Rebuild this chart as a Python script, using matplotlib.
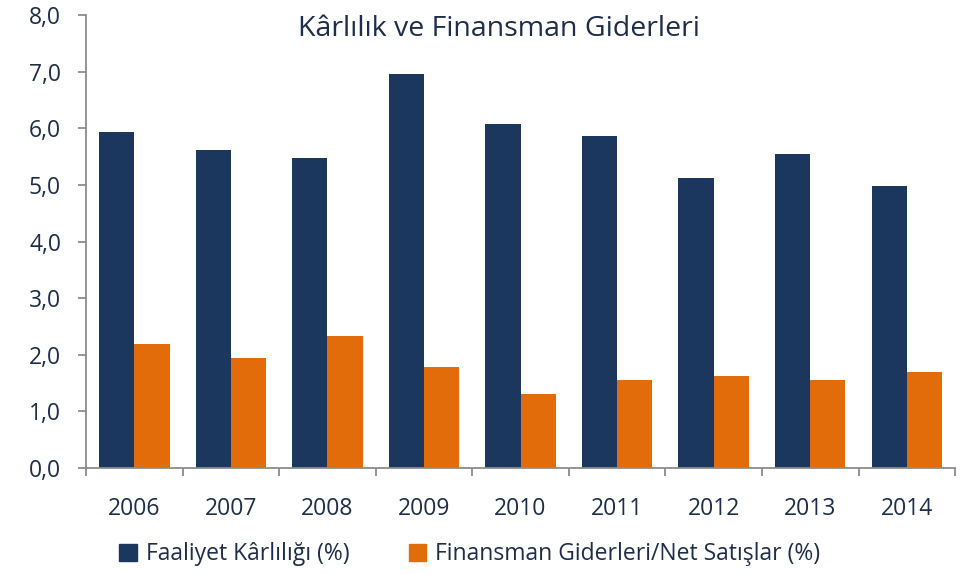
import numpy as np
import matplotlib.pyplot as plt
from matplotlib.patches import Patch

years = ['2006', '2007', '2008', '2009', '2010', '2011', '2012', '2013', '2014']
faaliyet = [5.94, 5.62, 5.48, 6.96, 6.08, 5.87, 5.12, 5.55, 4.98]
finansman = [2.19, 1.94, 2.33, 1.79, 1.31, 1.55, 1.63, 1.55, 1.70]

plt.rcParams['font.family'] = ['Open Sans', 'DejaVu Sans']
txt = '#1f2d4a'
navy = '#1b375e'
orange = '#e36c0a'

fig = plt.figure(figsize=(9.71, 5.74), dpi=100)
ax = fig.add_axes([0.0886, 0.1847, 0.895, 0.789])

x = np.arange(len(years))
w = 0.365
ax.bar(x - w / 2, faaliyet, w, color=navy, label='Faaliyet Kârlılığı (%)')
ax.bar(x + w / 2, finansman, w, color=orange, label='Finansman Giderleri/Net Satışlar (%)')

ax.set_xlim(-0.5, len(years) - 0.5)
ax.set_ylim(0, 8)
ax.set_yticks(np.arange(0, 8.1, 1))
ax.set_yticklabels([f'{v:.1f}'.replace('.', ',') for v in np.arange(0, 8.1, 1)])
ax.set_xticks(x)
ax.set_xticklabels(years)
ax.set_xticks(np.arange(-0.5, len(years)), minor=True)
ax.tick_params(axis='x', which='major', length=0, pad=21, labelsize=16.5, labelcolor=txt)
ax.tick_params(axis='x', which='minor', length=6, color='#8c8c8c', width=1.3)
ax.tick_params(axis='y', length=6, color='#8c8c8c', width=1.3, labelsize=16.5, labelcolor=txt, pad=12)

for s in ['top', 'right']:
    ax.spines[s].set_visible(False)
for s in ['left', 'bottom']:
    ax.spines[s].set_color('#8c8c8c')
    ax.spines[s].set_linewidth(1.3)

ax.text(0.475, 1.0, 'Kârlılık ve Finansman Giderleri', transform=ax.transAxes,
        ha='center', va='top', fontsize=20.5, color=txt)

handles = [Patch(color=navy), Patch(color=orange)]
fig.legend(handles, ['Faaliyet Kârlılığı (%)', 'Finansman Giderleri/Net Satışlar (%)'],
           loc='center', bbox_to_anchor=(0.484, 0.034), ncol=2, frameon=False,
           fontsize=16.5, labelcolor=txt, handlelength=0.75, handleheight=0.75,
           handletextpad=0.4, columnspacing=2.6)

fig.savefig('out.png', dpi=100)
